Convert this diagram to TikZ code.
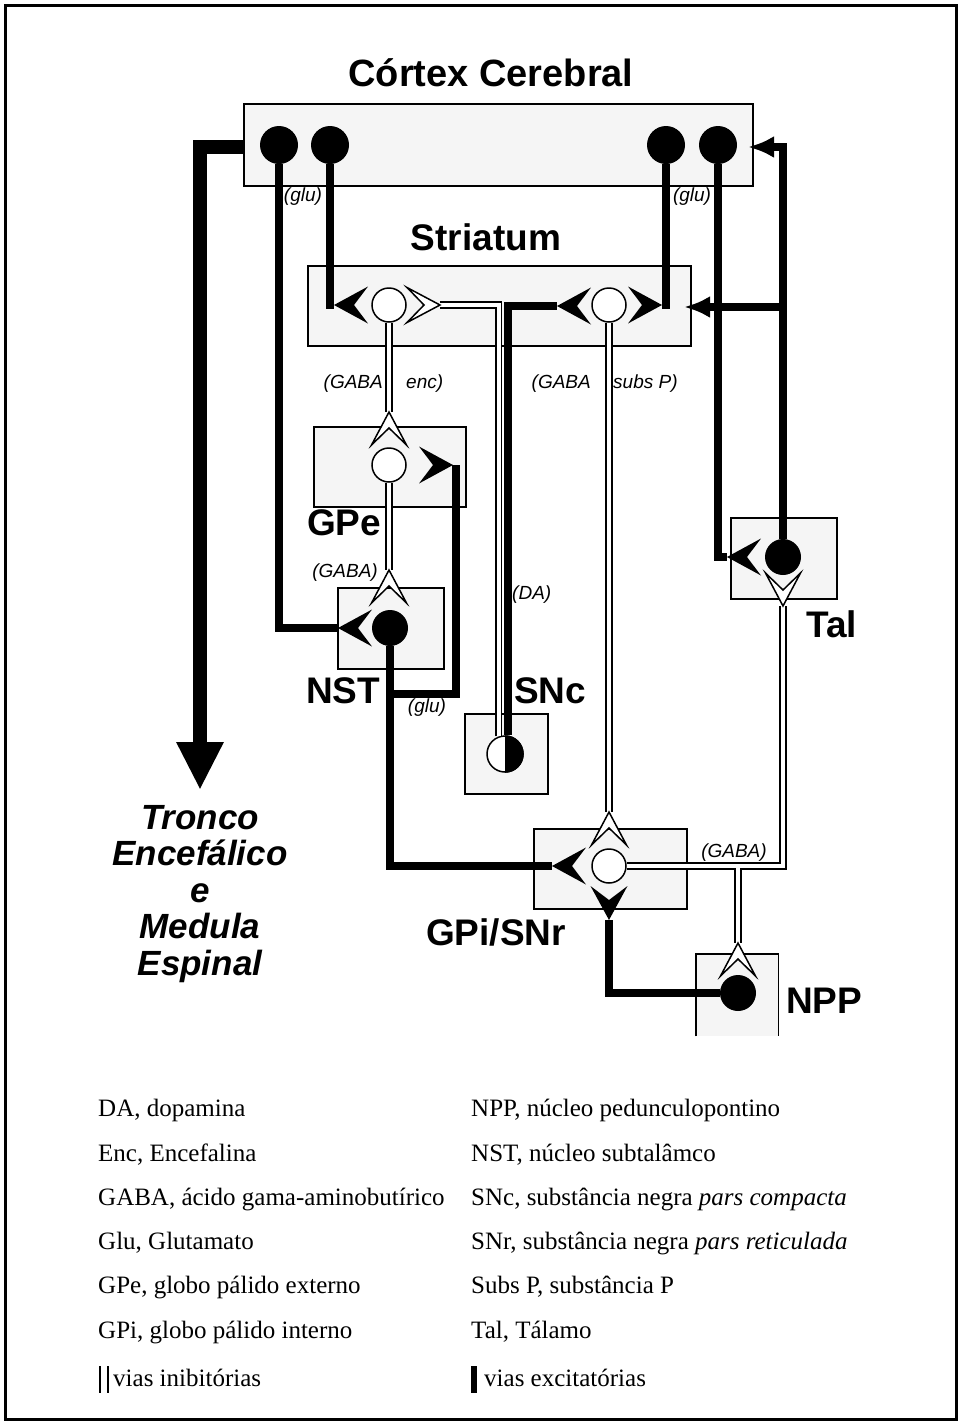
\documentclass[tikz,border=0pt]{standalone}
\usepackage{fontspec}
\setmainfont{Liberation Serif}
\setsansfont{Liberation Sans}
\usetikzlibrary{arrows.meta}
\begin{document}
\begin{tikzpicture}[x=1pt,y=-1pt,
  box/.style={draw=black, line width=1.8pt, fill=black!4, inner sep=0pt, anchor=north west},
  boxfill/.style={fill=black!4, inner sep=0pt, anchor=north west},
  boxedge/.style={draw=black, line width=1.8pt},
  excn/.style={circle, fill=black, minimum size=36pt, inner sep=0pt},
  inhn/.style={circle, draw=black, line width=1.5pt, fill=white, minimum size=34pt, inner sep=0pt},
  exc/.style={draw=black, line width=8pt},
  inh/.style={draw=black, line width=1.6pt, double=white, double distance=4pt},
  bigarrow/.style={draw=black, line width=14pt, -{Triangle[length=48pt,width=44pt]}},
  talarrow/.style={draw=black, line width=8pt, -{Latex[length=26pt,width=22pt]}},
  biglab/.style={font=\sffamily\bfseries\fontsize{37}{40}\selectfont, inner sep=0pt},
  smalllab/.style={font=\sffamily\itshape\fontsize{19}{22}\selectfont, inner sep=0pt},
  leg/.style={font=\fontsize{25}{28}\selectfont, anchor=base west, inner sep=0pt},
  pics/termE/.style={code={\fill[black] (0,0) -- (34,-18.5) -- (20,0) -- (34,18.5) -- cycle;}},
  pics/termI/.style={code={\filldraw[fill=white, draw=black, line width=1.5pt] (0,0) -- (33,-17.5) -- (16,0) -- (33,17.5) -- cycle;}},
]
\useasboundingbox (0,0) rectangle (962,1425);
% outer frame
\draw[line width=3pt] (5.5,5.5) rectangle (956.5,1419.5);

% boxes
\node[box, minimum width=509pt, minimum height=82pt] (cortex) at (243,103) {};
\node[box, minimum width=383pt, minimum height=80pt] (striatum) at (307,265) {};
\node[box, minimum width=152pt, minimum height=80pt] (gpebox) at (313,426) {};
\node[box, minimum width=106pt, minimum height=81pt] (nstbox) at (337,587) {};
\node[box, minimum width=106pt, minimum height=81pt] (talbox) at (730,517) {};
\node[box, minimum width=83pt, minimum height=80pt] (sncbox) at (464,713) {};
\node[box, minimum width=153pt, minimum height=80pt] (gpibox) at (533,828) {};
\node[boxfill, minimum width=82pt, minimum height=82pt] (nppbox) at (696,954) {};
\draw[boxedge] (nppbox.south west) -- (nppbox.north west) -- (nppbox.north east) -- (nppbox.south east);

% neurons
\node[excn, minimum size=38pt] (cx1) at (279,145) {};
\node[excn, minimum size=38pt] (cx2) at (330,145) {};
\node[excn, minimum size=38pt] (cx3) at (666,145) {};
\node[excn, minimum size=38pt] (cx4) at (718,145) {};
\node[inhn] (stL) at (389,305) {};
\node[inhn] (stR) at (609,305) {};
\node[inhn] (gpe) at (389,465) {};
\node[excn] (nst) at (390,628) {};
\node[inhn, minimum size=36pt] (snc) at (505,754) {};
\begin{scope}
  \clip (505,730) rectangle (530,780);
  \fill (snc.center) circle[radius=18.8pt];
\end{scope}
\node[excn] (tal) at (783,557) {};
\node[inhn] (gpi) at (609,866) {};
\node[excn] (npp) at (738,993) {};

% terminal coordinates
\coordinate (aNST) at (338,628);
\coordinate (aStL) at (334,305);
\coordinate (aStR) at (662,305);
\coordinate (aTal) at (727,557);
\coordinate (aGPi) at (552,866);
\coordinate (aGPe) at (453,465);
\coordinate (nstJ) at (390,694);
\coordinate (aGPiB) at (609,920);
\coordinate (aDAe) at (557,306);
\coordinate (aDAw) at (440,305);
\coordinate (aGPeT) at (389,412);
\coordinate (aNSTT) at (389,570);
\coordinate (aGPiT) at (609,812);
\coordinate (aTalT) at (783,606);
\coordinate (gpiJ) at (738,866);
\coordinate (aNPPT) at (738,943);
\coordinate (tipCx) at (748,147);
\coordinate (talJ) at (783,307);
\coordinate (tipSt) at (684,307);
\coordinate (trStart) at (243,147);
\coordinate (trTip) at (200,790);

% big descending arrow
\draw[bigarrow] (trStart) -| (trTip);

% excitatory paths
\draw[exc] (cx1.south) |- (aNST);
\draw[exc] (cx2.south) |- (aStL);
\draw[exc] (cx3.south) |- (aStR);
\draw[exc] (cx4.south) |- (aTal);
\draw[exc] (nst.south) |- (aGPi);
\draw[exc] (nstJ) -| ([xshift=3pt]aGPe);
\draw[exc] (npp.west) -| (aGPiB);
\draw[exc] (snc.82) |- (aDAe);
\draw[talarrow] (tal.north) |- (tipCx);
\draw[talarrow] (talJ) -- (tipSt);

% inhibitory paths
\draw[inh] (stL.south) -- (aGPeT);
\draw[inh] (gpe.south) -- (aNSTT);
\draw[inh] (stR.south) -- (aGPiT);
\draw[inh] (snc.110) |- (aDAw);
\draw[inh] (gpi.east) -| (aTalT) (gpiJ) -- (aNPPT);

% terminals
\pic at (aNST) {termE};
\pic at (aStL) {termE};
\pic[rotate=180] at (aStR) {termE};
\pic at (aTal) {termE};
\pic at (aGPi) {termE};
\pic[rotate=180] at (aGPe) {termE};
\pic[rotate=90] at (aGPiB) {termE};
\pic at (aDAe) {termE};
\pic[rotate=180] at (aDAw) {termI};
\pic[rotate=-90] at (aGPeT) {termI};
\pic[rotate=-90] at (aNSTT) {termI};
\pic[rotate=-90] at (aGPiT) {termI};
\pic[rotate=90] at (aTalT) {termI};
\pic[rotate=-90] at (aNPPT) {termI};

% big labels
\node[biglab, font=\sffamily\bfseries\fontsize{38}{40}\selectfont, anchor=base] (title) at (491,86) {Córtex Cerebral};
\node[biglab, anchor=base] (lstr) at (486,250) {Striatum};
\node[biglab, anchor=base west] (lgpe) at (307,535) {GPe};
\node[biglab, anchor=base west] (lnst) at (306,703) {NST};
\node[biglab, anchor=base west] (lsnc) at (514,703) {SNc};
\node[biglab, anchor=base west] (ltal) at (806,637) {Tal};
\node[biglab, anchor=base west] (lgpi) at (426,945) {GPi/SNr};
\node[biglab, anchor=base west] (lnpp) at (786,1013) {NPP};
\node[inner sep=0pt, anchor=base, text width=260pt, align=center,
      font=\sffamily\bfseries\itshape\fontsize{35}{36.5}\selectfont] (tronco) at (200,829)
      {Tronco\\Encefálico\\e\\Medula\\Espinal};

% small labels
\node[smalllab] (g1) at (303,197) {(glu)};
\node[smalllab] (g2) at (692,197) {(glu)};
\node[smalllab, anchor=east] (ga1) at (383,384) {(GABA};
\node[smalllab, anchor=west] (en) at (406,384) {enc)};
\node[smalllab, anchor=east] (ga2) at (591,384) {(GABA};
\node[smalllab, anchor=west] (sp) at (613,384) {subs P)};
\node[smalllab, anchor=east] (ga3) at (378,573) {(GABA)};
\node[smalllab, anchor=west] (da) at (512,595) {(DA)};
\node[smalllab] (g3) at (427,708) {(glu)};
\node[smalllab] (ga4) at (734,853) {(GABA)};

% legend
\node[leg] (l1) at (98,1116) {DA, dopamina};
\node[leg] (l2) at (98,1161) {Enc, Encefalina};
\node[leg] (l3) at (98,1205) {GABA, ácido gama-aminobutírico};
\node[leg] (l4) at (98,1249) {Glu, Glutamato};
\node[leg] (l5) at (98,1293) {GPe, globo pálido externo};
\node[leg] (l6) at (98,1338) {GPi, globo pálido interno};
\node[leg] (l7) at (113,1386) {vias inibitórias};
\draw[line width=1.5pt] (100,1366) -- (100,1393) (108,1366) -- (108,1393);
\node[leg] (r1) at (471,1116) {NPP, núcleo pedunculopontino};
\node[leg] (r2) at (471,1161) {NST, núcleo subtalâmco};
\node[leg] (r3) at (471,1205) {SNc, substância negra \textit{pars compacta}};
\node[leg] (r4) at (471,1249) {SNr, substância negra \textit{pars reticulada}};
\node[leg] (r5) at (471,1293) {Subs P, substância P};
\node[leg] (r6) at (471,1338) {Tal, Tálamo};
\node[leg] (r7) at (484,1386) {vias excitatórias};
\fill (471,1366) rectangle (477,1393);
\end{tikzpicture}
\end{document}
